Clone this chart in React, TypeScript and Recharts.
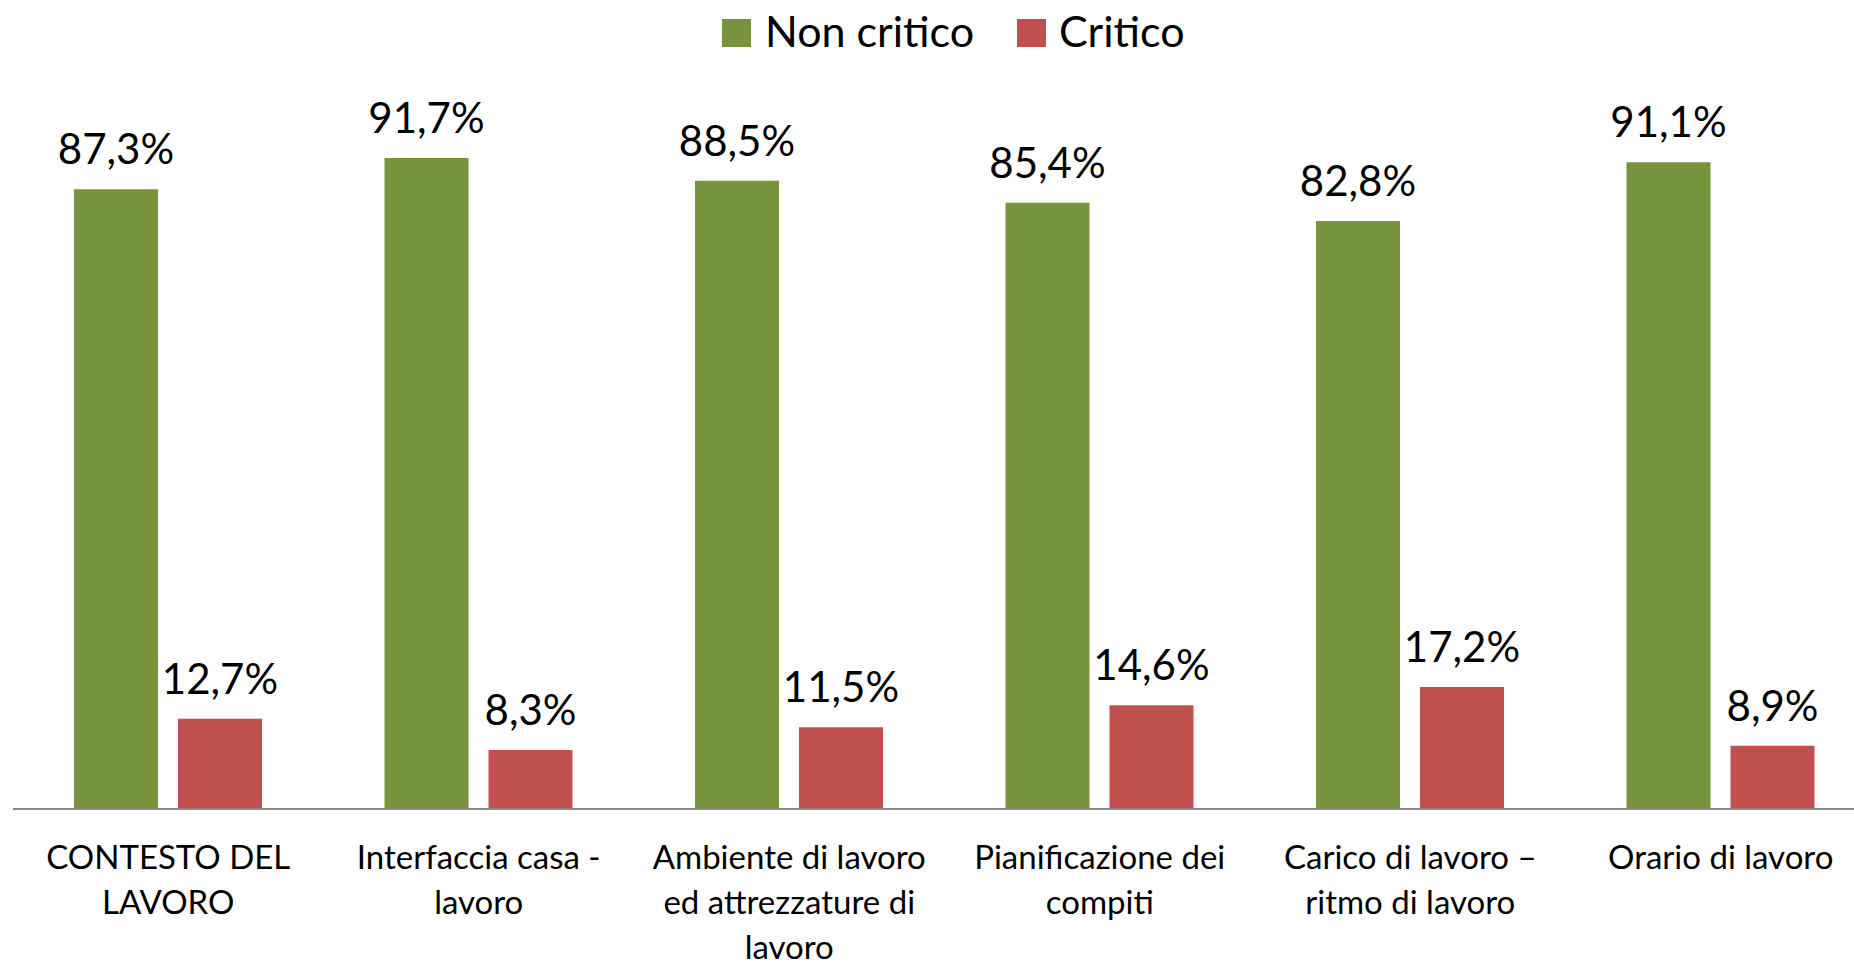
import React from 'react';
import { BarChart, Bar, XAxis, YAxis, Legend, LabelList } from 'recharts';

const categories = [
  'CONTESTO DEL\nLAVORO',
  'Interfaccia casa -\nlavoro',
  'Ambiente di lavoro\ned attrezzature di\nlavoro',
  'Pianificazione dei\ncompiti',
  'Carico di lavoro –\nritmo di lavoro',
  'Orario di lavoro',
];
const nonCritico = [87.3, 91.7, 88.5, 85.4, 82.8, 91.1];
const critico = [12.7, 8.3, 11.5, 14.6, 17.2, 8.9];

const GREEN = '#77933C';
const RED = '#C0504D';
const FONT = 'Lato, "Open Sans", sans-serif';

const data = categories.map((name, i) => ({
  name,
  nonCritico: nonCritico[i],
  critico: critico[i],
}));

const formatPct = (v: any) => `${Number(v).toFixed(1).replace('.', ',')}%`;

const CategoryTick = ({ x, y, payload }: any) => {
  const lines = String(payload.value).split('\n');
  return (
    <text x={x} y={y} textAnchor="middle" fontFamily={FONT} fontSize={33} fill="#000">
      {lines.map((line, i) => (
        <tspan key={i} x={x} dy={i === 0 ? 60 : 45}>{line}</tspan>
      ))}
    </text>
  );
};

// legend drawn as its own small svg strip across the top
const TopLegend = () => (
  <svg width={1854} height={70} style={{ display: 'block' }}>
    <rect x={722} y={19} width={29} height={28} fill={GREEN} />
    <text x={765} y={46.7} fontFamily={FONT} fontSize={43} fill="#000">Non critico</text>
    <rect x={1017} y={19} width={29} height={28} fill={RED} />
    <text x={1059} y={46.7} fontFamily={FONT} fontSize={43} fill="#000">Critico</text>
  </svg>
);

export default function App() {
  return (
    <div style={{ position: 'absolute', left: 0, top: 0, width: 1854, height: 963, overflow: 'hidden', background: '#fff' }}>
      <BarChart
        width={1880}
        height={963}
        data={data}
        margin={{ top: 99, right: 4, left: 13, bottom: 0 }}
        barSize={84}
        barGap={20}
      >
        <XAxis
          dataKey="name"
          height={154}
          interval={0}
          tickSize={0}
          tickMargin={0}
          tickLine={false}
          axisLine={{ stroke: '#898989', strokeWidth: 2 }}
          tick={<CategoryTick />}
        />
        <YAxis hide domain={[0, 100]} />
        <Legend
          layout="horizontal"
          verticalAlign="middle"
          align="center"
          wrapperStyle={{ top: 0, left: 0, width: 1854, height: 70 }}
          content={<TopLegend />}
        />
        <Bar dataKey="nonCritico" name="Non critico" fill={GREEN} isAnimationActive={false}>
          <LabelList dataKey="nonCritico" position="top" offset={25} formatter={formatPct} fill="#000" fontSize={42} fontFamily={FONT} />
        </Bar>
        <Bar dataKey="critico" name="Critico" fill={RED} isAnimationActive={false}>
          <LabelList dataKey="critico" position="top" offset={25} formatter={formatPct} fill="#000" fontSize={42} fontFamily={FONT} />
        </Bar>
      </BarChart>
    </div>
  );
}
